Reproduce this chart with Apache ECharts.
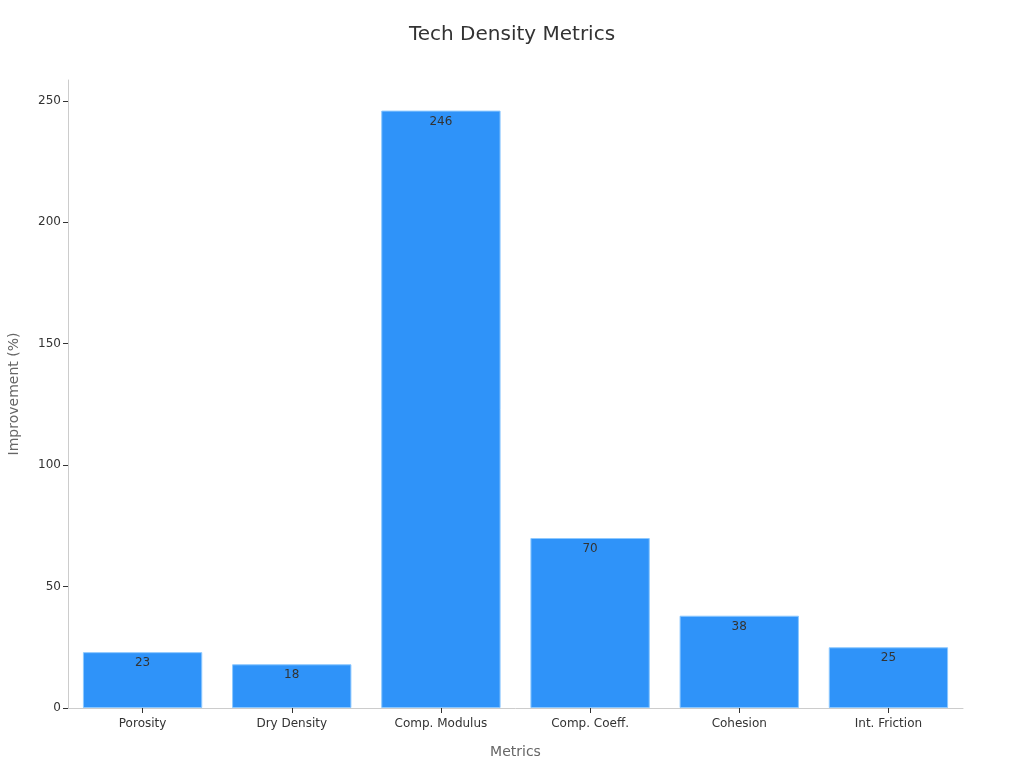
<!DOCTYPE html>
<html>
<head>
<meta charset="utf-8">
<script src="https://cdn.jsdelivr.net/npm/echarts@6/dist/echarts.min.js"></script>
<style>html,body{margin:0;padding:0;background:#fff}#c{width:1024px;height:768px}</style>
</head>
<body>
<div id="c"></div>
<script>
const categories = ["Porosity", "Dry Density", "Comp. Modulus", "Comp. Coeff.", "Cohesion", "Int. Friction"];
const values = [23, 18, 246, 70, 38, 25];
const chart = echarts.init(document.getElementById('c'));
const font = "DejaVu Sans";
chart.setOption({
  animation: false,
  textStyle: { fontFamily: font },
  title: { text: "Tech Density Metrics", left: "center", top: 20, textStyle: { fontFamily: font, fontSize: 20, fontWeight: "normal", color: "#333" } },
  grid: { left: 68, right: 61, top: 80, bottom: 60, containLabel: false, outerBoundsMode: "none" },
  xAxis: {
    type: "category", data: categories,
    name: "Metrics", nameLocation: "middle", nameGap: 37,
    nameTextStyle: { fontFamily: font, fontSize: 14, color: "#666" },
    axisLine: { lineStyle: { color: "#ccc" } },
    axisTick: { show: true, alignWithLabel: true, length: 5, lineStyle: { color: "#333" } },
    axisLabel: { fontFamily: font, fontSize: 12, color: "#333", margin: 10 }
  },
  yAxis: {
    type: "value", min: 0, max: 258.6, interval: 50,
    name: "Improvement (%)", nameLocation: "middle", nameGap: 47,
    nameTextStyle: { fontFamily: font, fontSize: 14, color: "#666" },
    axisLine: { show: true, lineStyle: { color: "#ccc" } },
    axisTick: { show: true, length: 5, lineStyle: { color: "#333" } },
    axisLabel: { fontFamily: font, fontSize: 12, color: "#333", showMaxLabel: false, margin: 7 },
    splitLine: { show: false }
  },
  series: [{
    type: "bar", data: values, barCategoryGap: "20%",
    itemStyle: { color: "#2f93f9", borderColor: "#8cc8ff", borderWidth: 1 },
    label: { show: true, position: "insideTop", fontFamily: font, fontSize: 12, color: "#333" }
  }]
});
</script>
</body>
</html>
